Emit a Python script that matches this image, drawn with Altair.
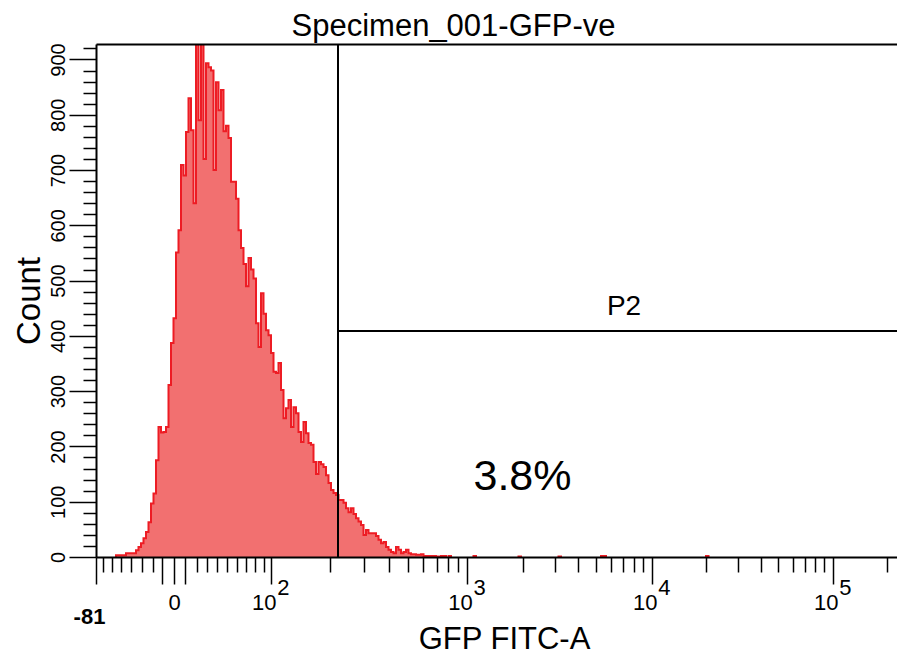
import math
import altair as alt
import pandas as pd

# ---------------- data ----------------
title_text = "Specimen_001-GFP-ve"
x_title = "GFP FITC-A"
y_title = "Count"
gate_name = "P2"
gate_pct = "3.8%"

# histogram counts per display bin (bin 0 starts at -81)
counts = [
    0, 0, 0, 0, 0, 0, 0, 0, 3, 3,
    3, 3, 7, 7, 7, 7, 12, 18, 25, 34,
    45, 63, 97, 115, 175, 235, 225, 226, 235, 311,
    387, 432, 551, 591, 709, 690, 769, 830, 772, 640,
    950, 790, 950, 720, 893, 886, 880, 700, 859, 808,
    845, 770, 780, 758, 679, 679, 648, 591, 559, 530,
    490, 541, 520, 504, 423, 380, 477, 440, 410, 401,
    369, 335, 333, 351, 302, 251, 269, 284, 235, 271,
    260, 226, 208, 244, 224, 206, 203, 172, 150, 172,
    168, 163, 148, 134, 121, 116, 112, 103, 103, 98,
    88, 81, 88, 78, 70, 64, 58, 40, 49, 43,
    43, 43, 38, 31, 25, 27, 18, 13, 9, 7,
    18, 13, 7, 9, 13, 7, 5, 5, 4, 4,
    5, 2, 2, 2, 2, 2, 1, 1, 2, 2,
    0, 2, 0, 0, 0, 0, 0, 0, 0, 0,
    0, 2,
]
sparse_bins = [169, 185, 202, 203, 244]
sparse_counts = [1, 1, 2, 2, 2]

n_bins = 321
x_end = 320.4          # last visible display channel
y_top = 928            # top of the count scale

# axis: linear part of the biexponential scale (value -> display channel)
lin_values = [-81, -70, -60, -50, -40, -30, -20, -10, 0, 10, 20, 30, 40, 50, 60, 70, 80, 90]
lin_channels = [0, 2.8, 6.4, 10, 14, 18.4, 22.8, 26.4, 31.2, 35.6, 40.4, 44.4, 48.4,
                52.4, 56.4, 60, 63.6, 67.2]
# decades 10^2 .. 10^5
decade_exp = ["2", "3", "4", "5"]
decade_channels = [69.9, 148.4, 222.3, 294.7]
last_decade_width = 72.4

# gate P2
gate_low = 96.8        # channel of the gate's lower bound
gate_level = 409       # count level of the gate marker line

# ---------------- build tables ----------------
full = counts + [0] * (n_bins - len(counts))
for b, c in zip(sparse_bins, sparse_counts):
    full[b] = c
hist = pd.DataFrame({"channel": list(range(n_bins + 1)), "count": full + [0]})

# outline: one step path per run of non-empty bins
rows = []
i = 0
seg = 0
idx = 0
while i < n_bins:
    if full[i] > 0:
        a = i
        while i < n_bins and full[i] > 0:
            i += 1
        b = i - 1
        pts = [(a, 0)] + [(k, full[k]) for k in range(a, b + 1)] + [(b + 1, 0)]
        for ch, c in pts:
            rows.append({"channel": ch, "count": c, "seg": seg, "i": idx})
            idx += 1
        seg += 1
    else:
        i += 1
outline = pd.DataFrame(rows)

long_ticks = [lin_channels[0], lin_channels[7], lin_channels[8], lin_channels[9]] + decade_channels
short_ticks = [c for c in lin_channels if c not in long_ticks]
for j, d in enumerate(decade_channels):
    w = (decade_channels[j + 1] - d) if j + 1 < len(decade_channels) else last_decade_width
    for k in range(2, 10):
        ch = d + math.log10(k) * w
        if ch <= x_end:
            short_ticks.append(round(ch, 3))

label_map = {lin_channels[0]: "-81", lin_channels[8]: "0"}
for d in decade_channels:
    label_map[d] = "10"
main_expr = " : ".join(f"datum.value == {k} ? '{v}'" for k, v in label_map.items()) + " : ''"
exp_expr = " : ".join(f"datum.value == {d} ? '{e}'" for d, e in zip(decade_channels, decade_exp)) + " : ''"

y_major = list(range(0, 901, 100))
y_minor = [v for v in range(20, 921, 20) if v % 100 != 0]

gate_v = pd.DataFrame({"x": [gate_low], "y": [0], "y2": [y_top]})
gate_h = pd.DataFrame({"x": [gate_low], "x2": [x_end], "y": [gate_level]})
txt = pd.DataFrame({"x": [211.2, 170.6], "y": [437, 121], "t": [gate_name, gate_pct],
                    "s": [28, 43]})

XS = alt.Scale(domain=[0, x_end], nice=False, zero=False)
YS = alt.Scale(domain=[0, y_top], nice=False, zero=False)

FONT = "Liberation Sans"
NARROW = "Liberation Sans Narrow, Arial Narrow, Liberation Sans"

fill_col = "#F27070"
line_col = "#ED1C24"

# ---------------- layers ----------------
x_main_axis = alt.Axis(
    values=long_ticks, tickSize=27, tickWidth=1.5, tickColor="black",
    domainColor="black", domainWidth=2, zindex=1, grid=False,
    labelExpr=main_expr, labelFlush=False, labelFont=FONT, labelFontSize=22,
    labelColor="black", labelAngle=0,
    labelPadding={"condition": {"test": f"datum.value == {lin_channels[0]}", "value": 22}, "value": 8},
    labelOffset={"condition": {"test": f"datum.value != {lin_channels[8]}", "value": -7}, "value": 0},
    labelFontWeight={"condition": {"test": f"datum.value == {lin_channels[0]}", "value": "bold"}, "value": "normal"},
    title=x_title, titleFont=FONT, titleFontSize=31, titleFontWeight="normal",
    titleColor="black", titleBaseline="alphabetic", titleAlign="center",
    titleX=408, titleY=91, orient="bottom",
)
y_main_axis = alt.Axis(
    values=y_major, tickSize=27, tickWidth=1.5, tickColor="black",
    domainColor="black", domainWidth=2, zindex=1, grid=False,
    labelAngle=270, labelFont=NARROW, labelFontSize=20, labelColor="black",
    labelPadding=1, labelFlush=False,
    title=y_title, titleFont=FONT, titleFontSize=33, titleFontWeight="normal",
    titleColor="black", titleAngle=270, titleBaseline="alphabetic", titleAlign="center",
    titleX=-57, titleY=256.5, orient="left",
)

area = alt.Chart(hist).mark_area(
    interpolate="step-after", color=fill_col, clip=True
).encode(
    x=alt.X("channel:Q", scale=XS, axis=x_main_axis),
    y=alt.Y("count:Q", scale=YS, axis=y_main_axis),
)

line = alt.Chart(outline).mark_line(
    interpolate="step-after", color=line_col, strokeWidth=2, clip=True
).encode(
    x=alt.X("channel:Q", scale=XS, axis=alt.Axis(
        values=short_ticks, tickSize=15, tickWidth=1.5, tickColor="black",
        domain=False, labels=False, grid=False, title=None, orient="bottom", zindex=1)),
    y=alt.Y("count:Q", scale=YS, axis=alt.Axis(
        values=y_minor, tickSize=13, tickWidth=1.5, tickColor="black",
        domain=False, labels=False, grid=False, title=None, orient="left", zindex=1)),
    detail="seg:N",
    order=alt.Order("i:Q"),
)

vrule = alt.Chart(gate_v).mark_rule(color="black", strokeWidth=2).encode(
    x=alt.X("x:Q", scale=XS, axis=alt.Axis(
        values=decade_channels, ticks=False, domain=False, grid=False, title=None,
        labelExpr=exp_expr, labelFont=FONT, labelFontSize=22, labelColor="black",
        labelOffset=12, labelPadding=20, labelFlush=False, labelAngle=0, orient="bottom")),
    y=alt.Y("y:Q", scale=YS, axis=None),
    y2="y2:Q",
)

hrule = alt.Chart(gate_h).mark_rule(color="black", strokeWidth=2).encode(
    x=alt.X("x:Q", scale=XS, axis=alt.Axis(
        orient="top", ticks=False, labels=False, grid=False, title=None,
        domain=True, domainColor="black", domainWidth=2, zindex=1)),
    x2="x2:Q",
    y=alt.Y("y:Q", scale=YS, axis=None),
)

texts = alt.Chart(txt).mark_text(
    font=FONT, color="black", baseline="alphabetic", align="center"
).encode(
    x=alt.X("x:Q", scale=XS, axis=None),
    y=alt.Y("y:Q", scale=YS, axis=None),
    text="t:N",
    size=alt.Size("s:Q", scale=None, legend=None),
)

chart = alt.layer(area, line, vrule, hrule, texts).resolve_axis(
    x="independent", y="independent"
).properties(
    width=801, height=513,
    autosize=alt.AutoSizeParams(type="none"),
    padding={"left": 88, "top": 36, "right": 0, "bottom": 97},
    title=alt.TitleParams(title_text, font=FONT, fontSize=31, fontWeight="normal",
                          color="black", anchor="middle", baseline="alphabetic",
                          offset=5, dx=-43, dy=29),
).configure_view(stroke=None).configure(background="white")

chart.save("out.html", embed_options={"renderer": "svg", "actions": False})
